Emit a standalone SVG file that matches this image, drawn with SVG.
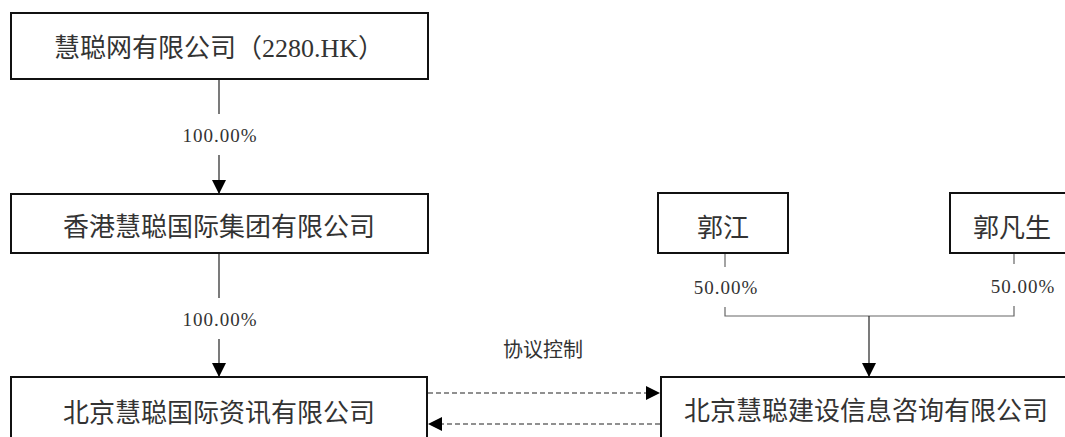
<svg xmlns="http://www.w3.org/2000/svg" width="1065" height="437" viewBox="0 0 1065 437">
<style>
.box{fill:#fff;stroke:#111;stroke-width:2}
.t{font-family:"Liberation Serif","Noto Sans CJK SC",serif;font-size:26px;fill:#333;text-anchor:middle}
.p{font-family:"Liberation Serif",serif;font-size:19px;letter-spacing:1px;fill:#333;text-anchor:middle}
.c{font-family:"Noto Sans CJK SC",sans-serif;font-size:20px;fill:#333;text-anchor:middle}
.ln{fill:none;stroke:#222;stroke-width:1.2}
.br{fill:none;stroke:#666;stroke-width:1.2}
.ds{fill:none;stroke:#222;stroke-width:1.2;stroke-dasharray:5 3}
</style>
<defs>
<marker id="ah" viewBox="0 0 14 14" refX="14" refY="7" markerWidth="14" markerHeight="14" markerUnits="userSpaceOnUse" orient="auto">
<path d="M0,0 L14,7 L0,14 z" fill="#000"/>
</marker>
</defs>
<rect width="1065" height="437" fill="#fff"/>
<g id="connectors">
<line class="ln" x1="219" y1="79" x2="219" y2="114"/>
<line class="ln" x1="219" y1="155" x2="219" y2="194" marker-end="url(#ah)"/>
<line class="ln" x1="219" y1="253" x2="219" y2="298"/>
<line class="ln" x1="219" y1="339" x2="219" y2="377" marker-end="url(#ah)"/>
<line class="ds" x1="428" y1="393" x2="660" y2="393" marker-end="url(#ah)"/>
<line class="ds" x1="660" y1="424" x2="428" y2="424" marker-end="url(#ah)"/>
<line class="br" x1="725" y1="253" x2="725" y2="267"/>
<polyline class="br" points="725,307 725,316 1014,316 1014,306"/>
<line class="br" x1="1014" y1="253" x2="1014" y2="264"/>
<line class="ln" x1="869" y1="316" x2="869" y2="377" marker-end="url(#ah)"/>
<text class="p" x="220" y="142">100.00%</text>
<text class="p" x="220" y="326">100.00%</text>
<text class="p" x="726" y="294">50.00%</text>
<text class="p" x="1023" y="293">50.00%</text>
<text class="c" x="543" y="357">协议控制</text>
</g>
<g id="n1">
<rect class="box" x="11" y="13" width="417" height="66"/>
<text class="t" x="219" y="57">慧聪网有限公司（2280.HK）</text>
</g>
<g id="n2">
<rect class="box" x="11" y="194" width="417" height="59"/>
<text class="t" x="219" y="236">香港慧聪国际集团有限公司</text>
</g>
<g id="n3">
<rect class="box" x="11" y="377" width="416" height="80"/>
<text class="t" x="219" y="422">北京慧聪国际资讯有限公司</text>
</g>
<g id="n4">
<rect class="box" x="658" y="193" width="130" height="60"/>
<text class="t" x="723" y="237">郭江</text>
</g>
<g id="n5">
<rect class="box" x="950" y="193" width="130" height="60"/>
<text class="t" x="1012" y="237">郭凡生</text>
</g>
<g id="n6">
<rect class="box" x="661" y="377" width="420" height="80"/>
<text class="t" x="866" y="420">北京慧聪建设信息咨询有限公司</text>
</g>
</svg>
